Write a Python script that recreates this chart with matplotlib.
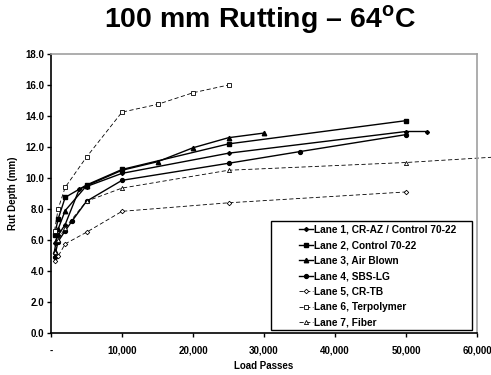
import matplotlib
matplotlib.use('Agg')
import matplotlib.pyplot as plt
from matplotlib.patches import Rectangle
from matplotlib.ticker import FuncFormatter, MultipleLocator

plt.rcParams['font.family'] = ['Liberation Sans', 'DejaVu Sans']
plt.rcParams['font.weight'] = 'bold'
plt.rcParams['mathtext.fontset'] = 'custom'
plt.rcParams['mathtext.bf'] = 'Liberation Sans:bold'
plt.rcParams['mathtext.rm'] = 'Liberation Sans:bold'

# Dữ liệu
lane1_x = [500, 1000, 2000, 4000, 5000, 10000, 25000, 50000, 53000]
lane1_y = [5.8, 6.3, 7.0, 9.3, 9.45, 10.3, 11.6, 13.0, 13.0]
lane2_x = [500, 1000, 2000, 5000, 10000, 25000, 50000]
lane2_y = [6.3, 7.35, 8.75, 9.55, 10.55, 12.2, 13.7]
lane3_x = [500, 1000, 2000, 5000, 10000, 15000, 20000, 25000, 30000]
lane3_y = [5.3, 6.7, 7.9, 9.5, 10.5, 11.05, 11.95, 12.6, 12.9]
lane4_x = [500, 1000, 2000, 3000, 5000, 10000, 25000, 35000, 50000]
lane4_y = [4.9, 5.9, 6.6, 7.25, 8.5, 9.85, 10.95, 11.7, 12.8]
lane5_x = [500, 1000, 2000, 5000, 10000, 25000, 50000]
lane5_y = [4.65, 4.95, 5.75, 6.5, 7.85, 8.4, 9.1]
lane6_x = [500, 1000, 2000, 5000, 10000, 15000, 20000, 25000]
lane6_y = [6.6, 8.0, 9.4, 11.35, 14.25, 14.75, 15.5, 16.0]
lane7_x = [500, 1000, 2000, 5000, 10000, 25000, 50000, 75000]
lane7_y = [5.2, 6.0, 6.8, 8.5, 9.35, 10.5, 11.0, 11.7]

labels = ['Lane 1, CR-AZ / Control 70-22', 'Lane 2, Control 70-22',
          'Lane 3, Air Blown', 'Lane 4, SBS-LG', 'Lane 5, CR-TB',
          'Lane 6, Terpolymer', 'Lane 7, Fiber']

fig = plt.figure(figsize=(4.91, 3.75), dpi=100)
ax = fig.add_axes([51/491, 1 - 333/375, 426/491, 279/375])

# đường liền
ax.plot(lane1_x, lane1_y, 'k-', lw=1, marker='D', ms=2, label=labels[0])
ax.plot(lane2_x, lane2_y, 'k-', lw=1, marker='s', ms=3, label=labels[1])
ax.plot(lane3_x, lane3_y, 'k-', lw=1, marker='^', ms=3.2, label=labels[2])
ax.plot(lane4_x, lane4_y, 'k-', lw=1, marker='o', ms=2.8, label=labels[3])
# đường đứt nét
dash = (0, (5, 3))
ax.plot(lane5_x, lane5_y, color='k', ls=dash, lw=0.6, marker='D', ms=2.3,
        mfc='white', mew=0.6, label=labels[4])
ax.plot(lane6_x, lane6_y, color='k', ls=dash, lw=0.6, marker='s', ms=3.2,
        mfc='white', mew=0.6, label=labels[5])
ax.plot(lane7_x, lane7_y, color='k', ls=dash, lw=0.6, marker='^', ms=3,
        mfc='white', mew=0.6, label=labels[6], clip_on=False)

ax.set_xlim(0, 60000)
ax.set_ylim(0, 18)
ax.xaxis.set_major_locator(MultipleLocator(10000))
ax.yaxis.set_major_locator(MultipleLocator(2))
ax.xaxis.set_major_formatter(FuncFormatter(lambda v, p: '-' if v == 0 else f'{v:,.0f}'))
ax.yaxis.set_major_formatter(FuncFormatter(lambda v, p: f'{v:.1f}'))
ax.tick_params(labelsize=7, length=3, width=1, pad=6, direction='out')
ax.tick_params(axis='y', pad=2)

for s in ['left', 'bottom']:
    ax.spines[s].set_color('black')
    ax.spines[s].set_linewidth(1.2)
for s in ['top', 'right']:
    ax.spines[s].set_color('#a0a0a0')
    ax.spines[s].set_linewidth(1.2)

ax.set_xlabel('Load Passes', fontsize=7, fontweight='bold', labelpad=4)
ax.set_ylabel('Rut Depth (mm)', fontsize=7, fontweight='bold', labelpad=5)

# khung chú thích
ax.add_patch(Rectangle((271/491, 1 - 330/375), 201/491, 109/375,
                       transform=fig.transFigure, fc='white', ec='black',
                       lw=1, zorder=5, clip_on=False))
leg = ax.legend(loc='lower right', bbox_to_anchor=(459/491, 1 - 331/375),
                bbox_transform=fig.transFigure, borderaxespad=0,
                frameon=False, prop={'size': 7.3, 'weight': 'bold'},
                handlelength=1.4, labelspacing=0.55, borderpad=0.3,
                handletextpad=0.1)
leg.set_zorder(6)

fig.text(260/491, 1 - 20/375, r'100 mm Rutting – 64$^{\mathbf{o}}$C',
         ha='center', va='center', fontsize=20.5, fontweight='bold')

fig.savefig('out.png', dpi=100)
